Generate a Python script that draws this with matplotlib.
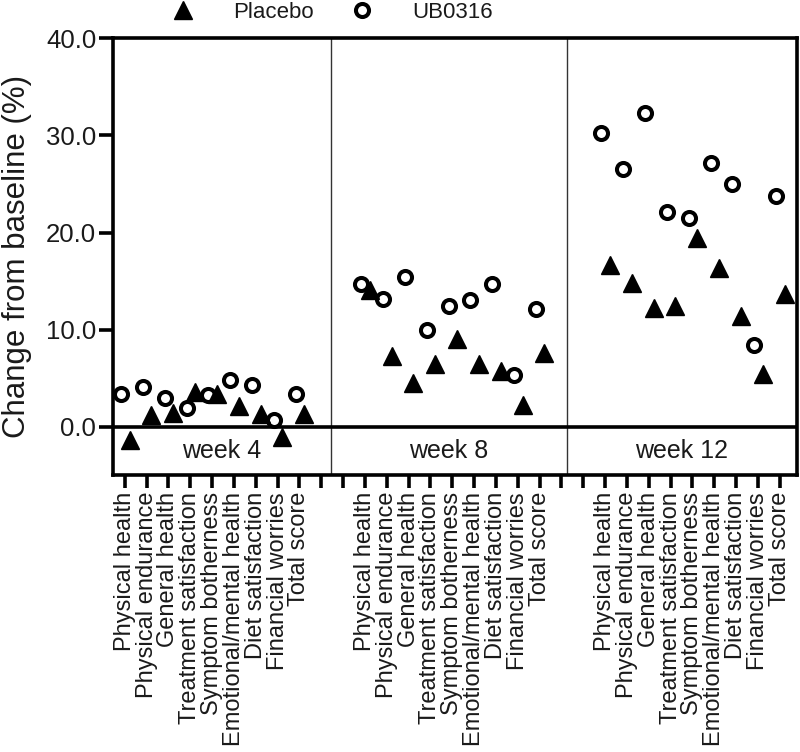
import matplotlib
matplotlib.use("Agg")
import matplotlib.pyplot as plt
from matplotlib.lines import Line2D

plt.rcParams['font.family'] = ['Liberation Sans', 'DejaVu Sans']

# category labels (same for every week)
categories = ["Physical health", "Physical endurance", "General health",
              "Treatment satisfaction", "Symptom botherness",
              "Emotional/mental health", "Diet satisfaction",
              "Financial worries", "Total score"]
weeks = ["week 4", "week 8", "week 12"]

# change from baseline (%)
placebo_w4 = [-1.4, 1.2, 1.4, 3.6, 3.4, 2.1, 1.3, -1.1, 1.3]
placebo_w8 = [14.1, 7.3, 4.5, 6.5, 9.0, 6.5, 5.7, 2.2, 7.6]
placebo_w12 = [16.7, 14.8, 12.2, 12.4, 19.4, 16.3, 11.4, 5.4, 13.7]

ub_w4 = [3.4, 4.1, 3.0, 1.9, 3.3, 4.8, 4.3, 0.7, 3.4]
ub_w8 = [14.7, 13.2, 15.4, 10.0, 12.4, 13.1, 14.7, 5.3, 12.1]
ub_w12 = [30.3, 26.5, 32.3, 22.1, 21.5, 27.2, 25.0, 8.4, 23.8]

placebo = [placebo_w4, placebo_w8, placebo_w12]
ub0316 = [ub_w4, ub_w8, ub_w12]

TXT = '#1a1a1a'
LW = 2.6

fig = plt.figure(figsize=(8, 7.52), dpi=100)
ax = fig.add_axes([0.141, 0.368, 0.855, 0.581])

n = len(categories)
gap = 2  # empty slots between the week groups
all_pos = []
all_lab = []
for g in range(3):
    start = g * (n + gap)
    pos = [start + k for k in range(n)]
    ax.plot([p - 0.17 for p in pos], ub0316[g], linestyle='none', marker='o',
            ms=9.4, mfc='white', mec='black', mew=2.9, zorder=3)
    ax.plot([p + 0.22 for p in pos], placebo[g], linestyle='none', marker='^',
            ms=13, color='black', zorder=4)
    all_pos += pos
    all_lab += categories
    if g < 2:
        all_pos += [start + n, start + n + 1]
        all_lab += ["", ""]

ax.set_xlim(-0.55, 30.78)
ax.set_ylim(-5, 40)

# panel dividers and baseline
for xd in [9.44, 20.25]:
    ax.axvline(xd, color='#333333', lw=1.0, zorder=1)
ax.axhline(0, color='black', lw=LW, zorder=2)

bounds = [-0.55, 9.44, 20.25, 30.78]
for g, w in enumerate(weeks):
    ax.text((bounds[g] + bounds[g + 1]) / 2, -2.5, w, ha='center', va='center',
            fontsize=18, color=TXT)

ax.set_yticks([0, 10, 20, 30, 40])
ax.set_yticklabels(["0.0", "10.0", "20.0", "30.0", "40.0"])
ax.set_xticks(all_pos)
ax.set_xticklabels(all_lab, rotation=90)

ax.tick_params(axis='y', direction='out', length=10, width=LW, labelsize=18.5,
               labelcolor=TXT, pad=2)
ax.tick_params(axis='x', direction='out', length=9, width=LW, labelsize=17,
               labelcolor=TXT, pad=3)
for s in ax.spines.values():
    s.set_linewidth(LW)

ax.set_ylabel("Change from baseline (%)", fontsize=22.5, color=TXT)
ax.yaxis.set_label_coords(-0.118, 0.5)

handles = [Line2D([], [], linestyle='none', marker='^', ms=13, color='black'),
           Line2D([], [], linestyle='none', marker='o', ms=9.4, mfc='white',
                  mec='black', mew=2.9)]
fig.legend(handles, ["Placebo", "UB0316"], ncol=2, loc='center left',
           bbox_to_anchor=(0.201, 0.984), frameon=False, prop={'size': 16},
           handlelength=2.0, handletextpad=1.26, columnspacing=1.17,
           labelcolor=TXT, borderpad=0, borderaxespad=0)

fig.savefig("out.png", dpi=100)
